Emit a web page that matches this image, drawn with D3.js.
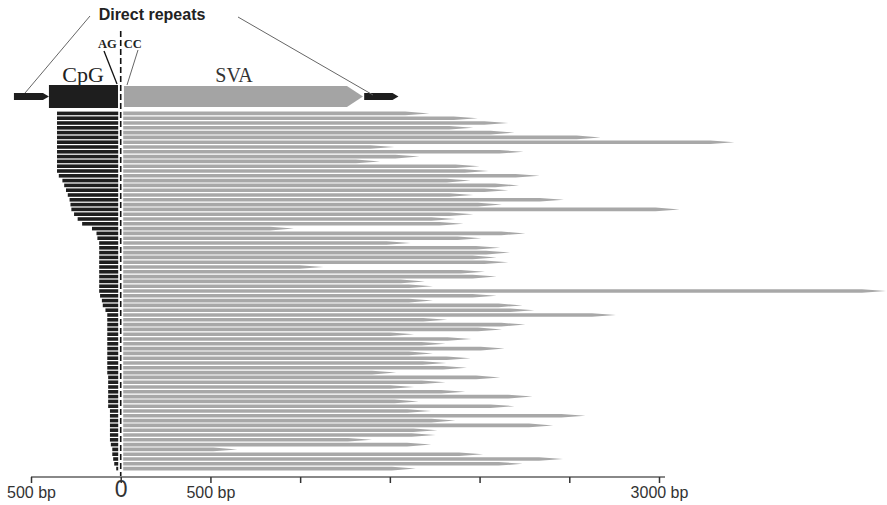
<!DOCTYPE html>
<html lang="en">
<head>
<meta charset="UTF-8">
<title>SVA insertions: CpG and SVA lengths</title>
<script src="https://d3js.org/d3.v7.min.js"></script>
<style>
  body { margin: 0; background: #fff; }
  svg { display: block; }
  .serif { font-family: "Liberation Serif", "Times New Roman", serif; }
  .sans { font-family: "Liberation Sans", Arial, sans-serif; }
</style>
</head>
<body>
<svg width="887" height="505"></svg>
<script>
// length (bp) of the CpG part, drawn to the left of 0, one value per element
const cpgLength = [
  355, 355, 355, 355, 355, 355, 355, 355, 355, 355, 355, 355, 355,
  345, 325, 315, 305, 295, 285, 280, 275, 260, 240, 215, 160, 135, 130,
  120, 120, 120, 120, 120, 120, 120, 120, 120, 120, 120,
  115, 105, 100, 85,
  75, 75, 75, 75, 75, 75, 75, 75, 75, 75, 75, 75, 75,
  70, 70, 70, 70, 70, 70, 70,
  60, 60, 60, 60, 60, 60, 60,
  55, 47, 47, 42, 36, 25
];

// length (bp) of the SVA part, drawn to the right of 0
const svaLength = [
  1720, 1990, 2160, 1965, 2195, 2675, 3420, 1525, 2245, 1665,
  1445, 2000, 2050, 2335, 1950, 2220, 2160, 1965, 2470, 2125,
  3115, 1965, 1865, 1910, 965, 2255, 2010, 1615, 2115, 2170,
  2095, 2160, 1130, 2030, 2095, 1695, 1740, 4265, 2095, 1740,
  2240, 2305, 2760, 1820, 2255, 2125, 1635, 1955, 1810, 2140,
  1740, 1950, 1815, 1930, 1535, 2115, 1810, 1635, 1920, 2295,
  1660, 2195, 1730, 2590, 1865, 2410, 1765, 1755, 1400, 1730,
  650, 2020, 2465, 2240, 1645
];

// schematic element on top (bp)
const headerParts = ["DR", "CpG", "SVA", "DR"];
const headerStart = [-595, -400, 18, 1357];
const headerEnd = [-400, -15, 1350, 1548];

const tickValues = [-500, 0, 500, 1000, 1500, 2000, 2500, 3000];
const tickLabels = ["500 bp", "0", "500 bp", "", "", "", "", "3000 bp"];

const svg = d3.select("svg");

const x = d3.scaleLinear().domain([-500, 3000]).range([31, 659]);
const y = d3.scaleBand()
  .domain(d3.range(svaLength.length))
  .range([111, 471])
  .paddingInner(0.25)
  .paddingOuter(0.125);

const x0 = x(0);
const gap = 2.5;
const h = y.bandwidth();

// black CpG bars
svg.append("g").selectAll("rect")
  .data(cpgLength)
  .join("rect")
  .attr("x", d => x(-d))
  .attr("y", (d, i) => y(i))
  .attr("width", d => x0 - gap - x(-d))
  .attr("height", h)
  .attr("fill", "#1e1e1e");

// grey SVA bars with pointed tips
const taper = 24;
svg.append("g").selectAll("path")
  .data(svaLength)
  .join("path")
  .attr("d", (d, i) => {
    const x1 = x0 + gap, x2 = x(d), t = y(i);
    const xm = Math.max(x1, x2 - taper);
    return `M${x1},${t}L${xm},${t}L${x2},${t + h / 2}L${xm},${t + h}L${x1},${t + h}Z`;
  })
  .attr("fill", "#a8a8a8");

// header: direct repeats, CpG block, SVA arrow
const hy = 96.5;
const header = svg.append("g");
headerParts.forEach((p, i) => {
  const a = x(headerStart[i]), b = x(headerEnd[i]);
  if (p === "DR") {
    const hh = 3.5;
    header.append("path")
      .attr("d", `M${a},${hy - hh}L${b - 6},${hy - hh}L${b},${hy}L${b - 6},${hy + hh}L${a},${hy + hh}Z`)
      .attr("fill", "#1e1e1e");
  } else if (p === "CpG") {
    header.append("rect")
      .attr("x", a).attr("y", hy - 11.5)
      .attr("width", b - a).attr("height", 23)
      .attr("fill", "#1e1e1e");
  } else {
    const hh = 10.5;
    header.append("path")
      .attr("d", `M${a},${hy - hh}L${b - 16},${hy - hh}L${b},${hy}L${b - 16},${hy + hh}L${a},${hy + hh}Z`)
      .attr("fill", "#a4a4a4");
  }
});

header.append("text").attr("class", "serif")
  .attr("x", 83).attr("y", 82)
  .attr("text-anchor", "middle").attr("font-size", 22).attr("fill", "#222")
  .text("CpG");
header.append("text").attr("class", "serif")
  .attr("x", 234).attr("y", 82)
  .attr("text-anchor", "middle").attr("font-size", 20).attr("fill", "#333")
  .text("SVA");
header.append("text").attr("class", "serif")
  .attr("x", x0 - 4).attr("y", 48).attr("text-anchor", "end")
  .attr("font-size", 12.5).attr("font-weight", "bold").attr("fill", "#222")
  .text("AG");
header.append("text").attr("class", "serif")
  .attr("x", x0 + 3).attr("y", 48).attr("text-anchor", "start")
  .attr("font-size", 12.5).attr("font-weight", "bold").attr("fill", "#222")
  .text("CC");
header.append("line")
  .attr("x1", 104).attr("y1", 51).attr("x2", 117).attr("y2", 84)
  .attr("stroke", "#111").attr("stroke-width", 1.3);
header.append("line")
  .attr("x1", 138).attr("y1", 50).attr("x2", 127).attr("y2", 85)
  .attr("stroke", "#666").attr("stroke-width", 1);

header.append("text").attr("class", "sans")
  .attr("x", 152).attr("y", 20).attr("text-anchor", "middle")
  .attr("font-size", 16).attr("font-weight", "bold").attr("fill", "#222")
  .text("Direct repeats");
header.append("line")
  .attr("x1", 90).attr("y1", 16).attr("x2", 25).attr("y2", 93)
  .attr("stroke", "#666").attr("stroke-width", 1);
header.append("line")
  .attr("x1", 238).attr("y1", 17).attr("x2", 373).attr("y2", 95)
  .attr("stroke", "#666").attr("stroke-width", 1);

// dashed line at 0
svg.append("line")
  .attr("x1", x0).attr("x2", x0)
  .attr("y1", 31).attr("y2", 477)
  .attr("stroke", "#111").attr("stroke-width", 1.6)
  .attr("stroke-dasharray", "6,3");

// axis
const axis = svg.append("g")
  .attr("transform", "translate(0,477)")
  .call(d3.axisBottom(x)
    .tickValues(tickValues)
    .tickSizeInner(6)
    .tickSizeOuter(0)
    .tickPadding(3)
    .tickFormat((d, i) => tickLabels[i]));

axis.select(".domain")
  .attr("d", `M${x(-500)},0H${x(3000) + 6}`)
  .attr("stroke", "#888").attr("stroke-width", 2);
axis.selectAll(".tick line").attr("stroke", "#333").attr("stroke-width", 1.5);
axis.selectAll(".tick text")
  .attr("class", "sans")
  .attr("font-size", 16)
  .attr("fill", "#333")
  .attr("dy", "0.78em");
axis.selectAll(".tick text")
  .filter(d => d === 0)
  .attr("font-size", 23)
  .attr("y", 3)
  .attr("dy", "0.72em");
</script>
</body>
</html>
